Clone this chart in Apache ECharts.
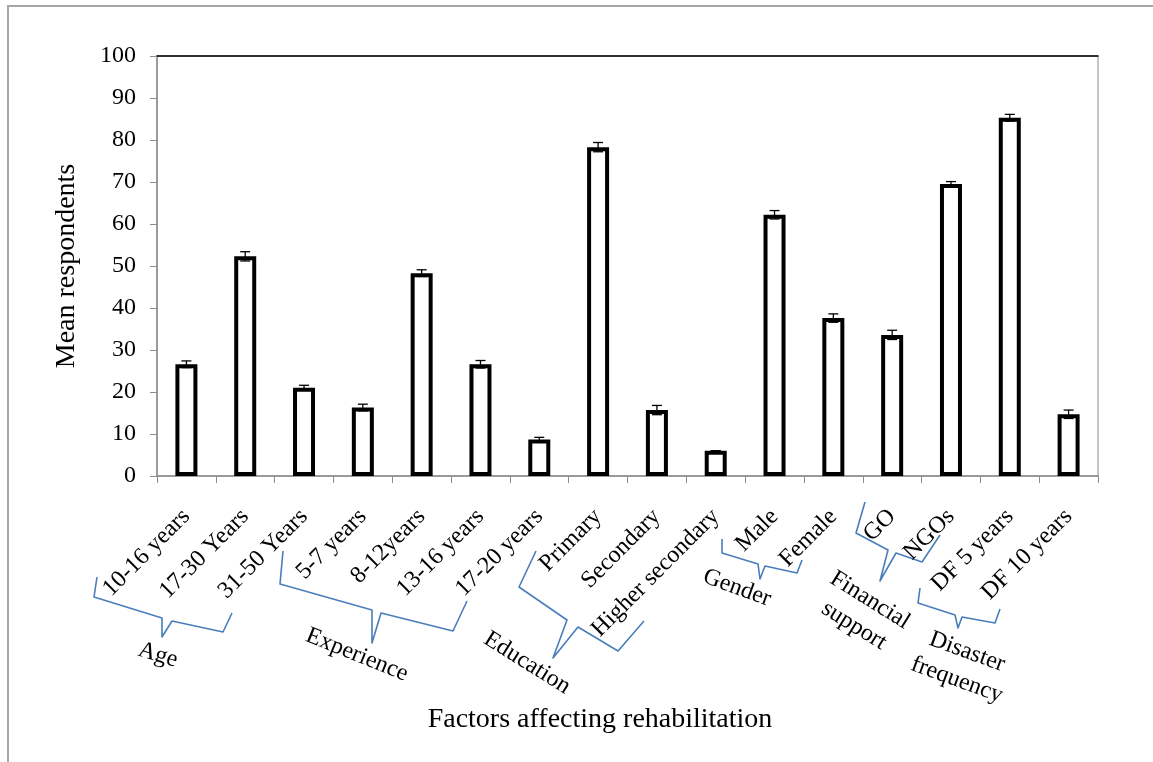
<!DOCTYPE html>
<html>
<head>
<meta charset="utf-8">
<script src="https://cdn.jsdelivr.net/npm/echarts@6/dist/echarts.min.js"></script>
<style>
  html, body { margin: 0; padding: 0; background: #fff; }
  #main { width: 1153px; height: 762px; }
</style>
</head>
<body>
<div id="main"></div>
<script>
// data
var categories = ['10-16 years', '17-30 Years', '31-50 Years', '5-7 years', '8-12years', '13-16 years',
    '17-20 years', 'Primary', 'Secondary', 'Higher secondary', 'Male', 'Female', 'GO', 'NGOs',
    'DF 5 years', 'DF 10 years'];
var means = [26.6, 52.3, 21.0, 16.3, 48.3, 26.6, 8.7, 78.3, 15.7, 6.0, 62.2, 37.6, 33.6, 69.5, 85.3, 14.7];
var errors = [0.8, 1.1, 0.6, 0.8, 0.8, 0.9, 0.5, 1.1, 1.1, 0, 1.0, 1.0, 1.1, 0.6, 0.8, 1.0];
var groupNames = ['Age', 'Experience', 'Education', 'Gender', 'Financial\nsupport', 'Disaster\nfrequency'];
var yMin = 0, yMax = 100, yStep = 10;

// layout of the hand drawn braces and group labels (pixels)
var braces = [
    [[97, 577], [94, 597], [162, 618], [162, 637], [172, 621], [223, 632], [232, 613]],
    [[283, 551], [280, 584], [372, 610], [372, 643], [381, 613], [453, 631], [467, 601]],
    [[536, 551], [519, 587], [567, 620], [553, 658], [578, 627], [618, 651], [644, 621]],
    [[722, 539], [722, 553], [758, 564], [760, 579], [765, 566], [797, 573], [802, 560]],
    [[865, 502], [856, 533], [888, 550], [880, 581], [896, 553], [922, 562], [940, 535]],
    [[920, 588], [918, 603], [955, 615], [958, 628], [962, 617], [995, 623], [1000, 609]]
];
var groupLabelPos = [[158, 655, 17], [357, 655, 22], [527, 663, 32], [737, 588, 20], [862, 613, 32], [962, 666, 20]];

var font = 'Liberation Serif';
var box = document.getElementById('main');
var myChart = echarts.init(box);

var errData = means.map(function (v, i) { return [i, v, errors[i]]; });

var graphics = [{
    type: 'rect',
    shape: { x: 8, y: 6, width: 1300, height: 900 },
    style: { fill: 'none', stroke: '#a6a6a6', lineWidth: 2 },
    silent: true
}, {
    type: 'text',
    x: 600, y: 720,
    style: { text: 'Factors affecting rehabilitation', font: '28px "' + font + '"', fill: '#000', align: 'center', verticalAlign: 'middle' }
}];
braces.forEach(function (pts) {
    graphics.push({
        type: 'polyline',
        shape: { points: pts },
        style: { stroke: '#4a7ebb', lineWidth: 1.6, fill: 'none', lineJoin: 'round' }
    });
});
groupNames.forEach(function (name, i) {
    var p = groupLabelPos[i];
    graphics.push({
        type: 'text',
        x: p[0], y: p[1],
        rotation: -p[2] * Math.PI / 180,
        style: { text: name, font: '24px "' + font + '"', fill: '#000', align: 'center', verticalAlign: 'middle', lineHeight: 30 }
    });
});

var option = {
    animation: false,
    backgroundColor: '#fff',
    grid: {
        left: 157, right: 55, top: 56, bottom: 286,
        show: true,
        borderColor: '#8c8c8c',
        borderWidth: 1
    },
    xAxis: [{
        type: 'category',
        data: categories,
        axisLine: { lineStyle: { color: '#8c8c8c', width: 1.5 } },
        axisTick: { show: true, length: 7, lineStyle: { color: '#8c8c8c' } },
        axisLabel: { rotate: 45, margin: 37, color: '#000', fontSize: 24, fontFamily: font, interval: 0 }
    }, {
        type: 'category',
        position: 'top',
        data: categories,
        axisLine: { lineStyle: { color: '#000', width: 1.5 } },
        axisTick: { show: false },
        axisLabel: { show: false }
    }],
    yAxis: {
        type: 'value',
        min: yMin, max: yMax, interval: yStep,
        name: 'Mean respondents',
        nameLocation: 'middle',
        nameGap: 76,
        nameRotate: 90,
        nameTextStyle: { color: '#000', fontSize: 28, fontFamily: font },
        axisLine: { show: true, lineStyle: { color: '#8c8c8c', width: 1.5 } },
        axisTick: { show: true, length: 7, lineStyle: { color: '#8c8c8c' } },
        axisLabel: { margin: 21, color: '#000', fontSize: 24, fontFamily: font },
        splitLine: { show: false }
    },
    series: [{
        name: 'Mean',
        type: 'bar',
        data: means,
        barWidth: 22,
        itemStyle: { color: '#fff', borderColor: '#000', borderWidth: 4 }
    }, {
        name: 'Error',
        type: 'custom',
        data: errData,
        z: 5,
        renderItem: function (params, api) {
            var x = api.value(0), v = api.value(1), e = api.value(2);
            var top = api.coord([x, v + e]);
            var bot = api.coord([x, v - e]);
            var w = 5;
            var st = { stroke: '#000', lineWidth: 1.3 };
            return {
                type: 'group',
                children: [
                    { type: 'line', shape: { x1: top[0], y1: top[1], x2: bot[0], y2: bot[1] }, style: st },
                    { type: 'line', shape: { x1: top[0] - w, y1: top[1], x2: top[0] + w, y2: top[1] }, style: st },
                    { type: 'line', shape: { x1: bot[0] - w, y1: bot[1], x2: bot[0] + w, y2: bot[1] }, style: st }
                ]
            };
        }
    }],
    graphic: graphics
};
myChart.setOption(option);
window.addEventListener('resize', function () {
    myChart.resize();
});
</script>
</body>
</html>
